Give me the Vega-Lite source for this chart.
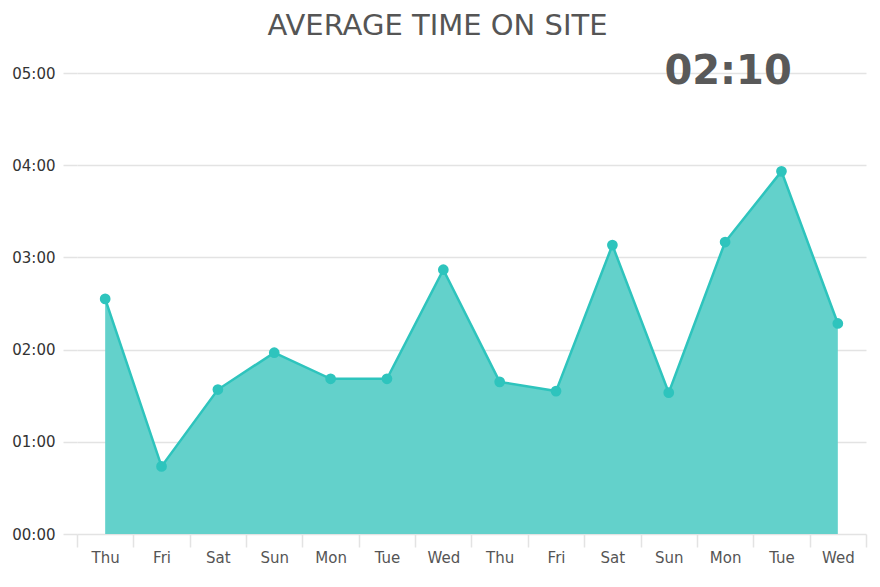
{
  "$schema": "https://vega.github.io/schema/vega-lite/v6.json",
  "width": 789,
  "height": 461,
  "autosize": {"type": "none"},
  "padding": {"left": 77, "top": 73, "right": 14, "bottom": 53},
  "background": "white",
  "title": {
    "text": "AVERAGE TIME ON SITE",
    "font": "DejaVu Sans",
    "fontSize": 29,
    "fontWeight": "normal",
    "color": "#555555",
    "anchor": "middle",
    "dx": -34,
    "baseline": "alphabetic",
    "offset": -12
  },
  "config": {
    "view": {"stroke": null},
    "font": "DejaVu Sans"
  },
  "datasets": {
    "visits": [
      {"key": "Thu-1", "seconds": 153},
      {"key": "Fri-1", "seconds": 44},
      {"key": "Sat-1", "seconds": 94},
      {"key": "Sun-1", "seconds": 118},
      {"key": "Mon-1", "seconds": 101},
      {"key": "Tue-1", "seconds": 101},
      {"key": "Wed-1", "seconds": 172},
      {"key": "Thu-2", "seconds": 99},
      {"key": "Fri-2", "seconds": 93},
      {"key": "Sat-2", "seconds": 188},
      {"key": "Sun-2", "seconds": 92},
      {"key": "Mon-2", "seconds": 190},
      {"key": "Tue-2", "seconds": 236},
      {"key": "Wed-2", "seconds": 137}
    ],
    "kpi": [{"label": "02:10"}]
  },
  "layer": [
    {
      "data": {"name": "visits"},
      "mark": {"type": "area", "color": "#63D1CB", "opacity": 1, "line": false},
      "encoding": {
        "x": {
          "field": "key",
          "type": "ordinal",
          "sort": null,
          "scale": {"type": "band", "paddingInner": 0, "paddingOuter": 0},
          "axis": {
            "title": null,
            "labelExpr": "split(datum.label, '-')[0]",
            "labelAngle": 0,
            "labelFontSize": 15,
            "labelColor": "#555555",
            "labelPadding": 3,
            "tickBand": "extent",
            "tickSize": 13,
            "tickColor": "#e3e3e3",
            "tickWidth": 1.5,
            "domain": false,
            "grid": false
          }
        },
        "y": {
          "field": "seconds",
          "type": "quantitative",
          "scale": {"domain": [0, 300], "nice": false},
          "axis": {
            "title": null,
            "values": [0, 60, 120, 180, 240, 300],
            "labelExpr": "'0' + (datum.value / 60) + ':00'",
            "labelFontSize": 15,
            "labelColor": "#333333",
            "labelPadding": 8,
            "tickSize": 14,
            "tickColor": "#e3e3e3",
            "tickWidth": 1.5,
            "grid": true,
            "gridColor": "#e3e3e3",
            "gridWidth": 1.5,
            "domain": false
          }
        }
      }
    },
    {
      "data": {"name": "visits"},
      "mark": {"type": "line", "color": "#2EC4BD", "strokeWidth": 2.5},
      "encoding": {
        "x": {"field": "key", "type": "ordinal", "sort": null},
        "y": {"field": "seconds", "type": "quantitative"}
      }
    },
    {
      "data": {"name": "visits"},
      "mark": {"type": "point", "filled": true, "color": "#2EC4BD", "opacity": 1, "size": 115},
      "encoding": {
        "x": {"field": "key", "type": "ordinal", "sort": null},
        "y": {"field": "seconds", "type": "quantitative"}
      }
    },
    {
      "data": {"name": "kpi"},
      "mark": {"type": "text", "font": "DejaVu Sans", "fontSize": 40, "fontWeight": "bold", "color": "#595959", "baseline": "alphabetic", "align": "center", "dx": 3},
      "encoding": {
        "x": {"datum": "Mon-2", "type": "ordinal"},
        "y": {"datum": 293, "type": "quantitative"},
        "text": {"field": "label"}
      }
    }
  ]
}
